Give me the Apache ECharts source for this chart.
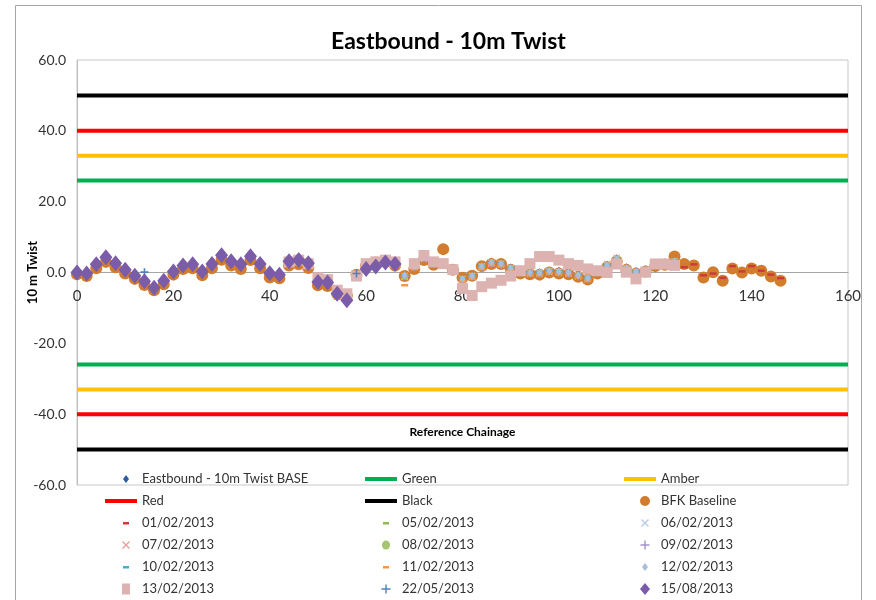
<!DOCTYPE html>
<html>
<head>
<meta charset="utf-8">
<script src="https://cdn.jsdelivr.net/npm/echarts@6/dist/echarts.min.js"></script>
<style>
  html, body { margin: 0; padding: 0; background: #fff; }
  #chart { width: 876px; height: 600px; }
</style>
</head>
<body>
<div id="chart"></div>
<script>
// ---- Data -------------------------------------------------------------
const chartTitle = 'Eastbound - 10m Twist';
const xAxisTitle = 'Reference Chainage';
const yAxisTitle = '10 m Twist';

// Reference chainage of each survey point (m)
const chainage = [0,2,4,6,8,10,12,14,16,18,20,22,24,26,28,30,32,34,36,38,40,42,44,46,48,50,
  52,54,56,58,60,62,64,66,68,70,72,74,76,78,80,82,84,86,88,90,92,94,96,98,100,102,104,106,
  108,110,112,114,116,118,120,122,124,126,128,130,132,134,136,138,140,142,144,146];

// Twist limits (drawn at + and - each value)
const limitNames  = ['Green', 'Amber', 'Red', 'Black'];
const limitValues = [26, 33, 40, 50];
const limitSpan   = [0, 160];

// Chainage 0 – 124
const base10mTwist = [0.4,0.2,2.8,4.8,3.0,1.2,-0.5,-2.0,-3.8,-1.9,
  0.7,2.4,2.7,0.8,2.9,5.3,3.6,2.8,5.0,2.9,
  0.3,-0.1,3.7,3.9,3.0,-2.2,-2.3,-6.5,-7.4,-0.1,
  1.5,2.2,3.3,2.9,-0.6,2.0,4.5,3.0,2.6,1.0,
  -1.5,-0.8,2.0,3.1,2.8,1.4,0.5,0.2,0.1,0.6,
  0.5,0.1,-0.6,-1.4,0.4,2.2,4.0,1.5,0.4,0.9,
  2.4,2.9,3.4];

// Chainage 0 – 146
const bfkBaseline = [-0.5,-1.0,1.2,3.0,1.5,-0.3,-1.8,-3.5,-5.0,-3.3,
  -0.6,1.0,1.2,-0.8,1.2,3.6,2.0,1.0,3.5,1.2,
  -1.4,-1.6,2.0,2.3,1.3,-3.6,-3.8,-6.0,-6.5,-0.6,
  2.0,2.8,3.0,2.0,-1.0,1.0,3.5,2.2,6.6,0.8,
  -1.5,-0.9,1.8,2.4,2.4,0.8,-0.3,-0.5,-0.6,0.0,
  -0.3,-0.5,-1.2,-2.0,-0.3,1.5,3.2,0.8,-0.3,0.3,
  1.8,2.2,4.5,2.4,2.0,-1.4,0.1,-2.3,1.1,0.0,
  1.1,0.5,-1.1,-2.3];

// Chainage 0 – 146
const run01Feb = [0.3,-0.1,2.1,4.0,2.4,0.6,-1.1,-2.7,-4.0,-2.0,
  0.1,1.8,2.0,0.1,2.2,4.6,3.0,2.0,4.3,2.2,
  -0.4,-0.8,3.0,3.3,2.3,-2.9,-3.0,-6.2,-7.5,-0.7,
  0.8,1.5,2.6,2.2,-1.2,1.2,3.7,2.3,1.8,0.3,
  -2.2,-1.4,1.3,2.4,2.1,0.8,-0.2,-0.5,-0.5,0.0,
  -0.2,-0.5,-1.2,-2.0,-0.2,1.6,3.4,0.8,-0.2,0.3,
  1.8,2.2,2.8,1.5,2.3,-0.8,-0.3,-1.5,1.8,0.3,
  1.8,0.5,-0.6,-1.6];

// Chainage 68 – 124
const run05Feb = [-0.8,1.2,4.6,2.2,1.6,0.2,-2.3,-1.5,1.1,2.3,2.0,0.7,-0.3,-0.5,-0.4,
  0.0,-0.2,-0.6,-1.3,-2.0,-0.2,1.5,3.3,0.8,-0.2,0.2,1.7,2.1,2.7];
const run06Feb = [-1.2,1.7,3.8,2.7,2.2,0.7,-1.8,-1.0,1.7,2.8,2.5,1.2,0.2,-0.1,-0.1,
  0.4,0.2,-0.1,-0.8,-1.6,0.2,2.0,3.8,1.2,0.2,0.7,2.2,2.6,3.2];
const run07Feb = [-0.9,1.4,4.2,2.4,1.9,0.4,-2.1,-1.3,1.4,2.5,2.2,0.9,-0.1,-0.4,-0.4,
  0.1,-0.1,-0.4,-1.1,-1.9,-0.1,2.4,4.2,1.0,-0.1,0.4,1.9,2.3,2.9];
const run08Feb = [-1.1,1.6,4.9,2.6,2.1,0.6,-1.9,-1.1,1.6,2.7,2.4,1.1,0.1,-0.2,-0.2,
  0.3,0.1,-0.2,-0.9,-1.7,0.1,1.9,3.7,1.1,0.1,0.6,2.1,2.5,3.1];
const run09Feb = [-1.1,1.4,4.1,2.4,2.1,0.6,-2.1,-1.1,1.4,2.7,2.2,1.1,0.1,-0.2,-0.4,
  0.3,0.1,-0.2,-1.1,-1.7,0.1,1.7,3.5,1.1,0.1,0.4,2.1,2.5,2.9];

// Chainage 44 – 124
const run10Feb = [3.5,3.8,2.9,-2.4,-2.5,-6.7,-7.5,-0.2,1.3,2.0,
  3.1,2.7,-0.7,1.8,4.3,2.8,2.3,0.8,-1.7,-0.9,
  1.8,2.9,2.6,1.3,0.3,0.0,0.0,0.5,0.3,0.0,
  -0.7,-1.5,0.3,2.1,3.9,1.3,0.3,0.8,2.3,2.7,3.3];
const run11Feb = [2.8,3.1,2.2,-3.1,-3.2,-7.4,-8.3,-0.9,0.6,1.3,
  2.4,2.0,-3.6,1.1,3.6,2.1,1.6,0.1,-2.4,-1.6,
  1.1,2.2,1.9,0.6,-0.4,-0.7,-0.7,-0.2,-0.4,-0.7,
  -1.4,-2.2,-0.4,1.4,3.2,0.6,-0.4,0.1,1.6,2.0,2.6];
const run12Feb = [3.4,3.6,2.8,-2.5,-2.6,-6.8,-7.6,-0.3,1.2,1.9,
  3.0,2.6,-0.8,1.7,4.2,2.7,2.2,0.7,-1.8,-1.0,
  1.7,2.8,2.5,1.2,0.2,-0.1,-0.1,0.4,0.2,-0.1,
  -0.8,-1.6,0.2,2.0,3.8,1.2,0.2,0.7,2.2,2.6,3.2];
const run13Feb = [3.0,3.5,2.5,-1.5,-2.0,-5.0,-6.0,-1.0,2.5,3.0,
  3.5,3.0,null,2.5,4.8,3.0,2.5,0.8,-4.5,-6.5,
  -4.0,-3.0,-2.2,-1.0,0.5,2.5,4.5,4.5,3.5,2.5,
  2.0,1.0,0.5,0.0,2.4,0.1,-1.8,0.1,2.4,2.4,2.0];

// Chainage 0 – 66
const run22May = [0.2,0.0,2.0,4.0,2.8,1.0,-0.5,0.1,-3.8,-2.0,
  0.5,2.2,2.0,0.5,2.6,5.2,3.0,2.5,4.8,2.6,
  0.0,-0.4,3.4,3.8,2.8,-2.4,-2.5,-6.8,-8.2,-0.3,
  1.2,2.0,3.0,2.6];
const run15Aug = [0.0,-0.3,2.3,4.3,2.6,0.8,-0.9,-2.5,-4.3,-2.3,
  0.3,2.0,2.3,0.3,2.4,4.9,3.2,2.3,4.6,2.4,
  -0.2,-0.6,3.2,3.5,2.6,-2.7,-2.8,-6.0,-7.8,null,
  1.0,1.7,2.8,2.4];

// ---- Helpers ----------------------------------------------------------
// Pair readings with their chainage, starting at a given chainage.
function points(values, fromChainage) {
  const start = chainage.indexOf(fromChainage);
  return values
    .map((v, i) => [chainage[start + i], v])
    .filter(p => p[1] !== null);
}

const FONT = "Lato, 'Liberation Sans', sans-serif";

// Marker shapes
const PLUS  = 'path://M4,0H6V4H10V6H6V10H4V6H0V4H4Z';
const CROSS = 'path://M0,1L1,0L5,4L9,0L10,1L6,5L10,9L9,10L5,6L1,10L0,9L4,5Z';

// Legend icons laid out in a 32x14 box (marker centred at x = 21)
const PAD = 'M0,0M32,14';
const ICON = {
  line:     'path://' + PAD + 'M0,5H32V9H0Z',
  diamondS: 'path://' + PAD + 'M21,3L24,7L21,11L18,7Z',
  diamondL: 'path://' + PAD + 'M21,1L26,7L21,13L16,7Z',
  circleL:  'path://' + PAD + 'M16,7A5,5 0 1 0 26,7A5,5 0 1 0 16,7Z',
  circleS:  'path://' + PAD + 'M17,7A4,4.5 0 1 0 25,7A4,4.5 0 1 0 17,7Z',
  dash:     'path://' + PAD + 'M18,6H24V8.5H18Z',
  cross:    'path://' + PAD + 'M17,4L18,3L21,6L24,3L25,4L22,7L25,10L24,11L21,8L18,11L17,10L20,7Z',
  plus:     'path://' + PAD + 'M20.3,2.5H21.7V6.3H25.5V7.7H21.7V11.5H20.3V7.7H16.5V6.3H20.3Z',
  square:   'path://' + PAD + 'M17,1.5H25V12.5H17Z'
};

// ---- Series -----------------------------------------------------------
const limitColors = { Green: '#00B050', Amber: '#FFC000', Red: '#FF0000', Black: '#000000' };

function scatter(name, data, color, symbol, size) {
  return {
    name, type: 'scatter', data, color,
    symbol, symbolSize: size,
    itemStyle: { color, opacity: 1 },
    silent: true, animation: false
  };
}

function limitLines(name, level) {
  return [level, -level].map(v => ({
    name, type: 'line', color: limitColors[name],
    data: [[limitSpan[0], v], [limitSpan[1], v]],
    symbol: 'none',
    lineStyle: { width: 4, color: limitColors[name] },
    silent: true, animation: false
  }));
}

const series = [];
series.push(scatter('Eastbound - 10m Twist BASE', points(base10mTwist, 0), '#2F5A9E', 'diamond', [6, 8]));
limitNames.forEach((n, i) => series.push(...limitLines(n, limitValues[i])));
series.push(scatter('BFK Baseline', points(bfkBaseline, 0), '#D27D2D', 'circle', 12));
series.push(scatter('01/02/2013', points(run01Feb, 0), '#CC3B3B', 'rect', [7, 2.5]));
series.push(scatter('05/02/2013', points(run05Feb, 68), '#92B84A', 'rect', [7, 2.5]));
series.push(scatter('06/02/2013', points(run06Feb, 68), '#B9CBE8', CROSS, 7));
series.push(scatter('07/02/2013', points(run07Feb, 68), '#E8A0A0', CROSS, 7));
series.push(scatter('08/02/2013', points(run08Feb, 68), '#A5C46F', 'circle', 7));
series.push(scatter('09/02/2013', points(run09Feb, 68), '#A593C8', PLUS, 8));
series.push(scatter('10/02/2013', points(run10Feb, 44), '#4BACC6', 'rect', [7, 2.5]));
series.push(scatter('11/02/2013', points(run11Feb, 44), '#F79646', 'rect', [7, 2.5]));
series.push(scatter('12/02/2013', points(run12Feb, 44), '#A9BEDD', 'diamond', [6, 8]));
series.push(scatter('13/02/2013', points(run13Feb, 44), '#DDB3B2', 'rect', 11));
series.push(scatter('22/05/2013', points(run22May, 0), '#4F81BD', PLUS, 8));
series.push(scatter('15/08/2013', points(run15Aug, 0), '#7A5CA8', 'diamond', [13, 16]));

// ---- Legend (three columns) --------------------------------------------
const legendIcons = {
  'Eastbound - 10m Twist BASE': ICON.diamondS,
  'Green': ICON.line, 'Amber': ICON.line, 'Red': ICON.line, 'Black': ICON.line,
  'BFK Baseline': ICON.circleL,
  '01/02/2013': ICON.dash, '05/02/2013': ICON.dash, '06/02/2013': ICON.cross,
  '07/02/2013': ICON.cross, '08/02/2013': ICON.circleS, '09/02/2013': ICON.plus,
  '10/02/2013': ICON.dash, '11/02/2013': ICON.dash, '12/02/2013': ICON.diamondS,
  '13/02/2013': ICON.square, '22/05/2013': ICON.plus, '15/08/2013': ICON.diamondL
};
const legendColumns = [
  ['Eastbound - 10m Twist BASE', 'Red', '01/02/2013', '07/02/2013', '10/02/2013', '13/02/2013'],
  ['Green', 'Black', '05/02/2013', '08/02/2013', '11/02/2013', '22/05/2013'],
  ['Amber', 'BFK Baseline', '06/02/2013', '09/02/2013', '12/02/2013', '15/08/2013']
];
const legendLeft = [105, 365, 624];

const legend = legendColumns.map((names, i) => ({
  orient: 'vertical',
  left: legendLeft[i],
  top: 472,
  padding: 0,
  itemWidth: 32,
  itemHeight: 14,
  itemGap: 8,
  selectedMode: false,
  itemStyle: { borderWidth: 0 },
  textStyle: { fontFamily: FONT, fontSize: 13, color: '#333' },
  data: names.map(n => ({ name: n, icon: legendIcons[n] }))
}));

// ---- Chart ------------------------------------------------------------
const chart = echarts.init(document.getElementById('chart'), null, { renderer: 'canvas' });
chart.setOption({
  animation: false,
  backgroundColor: '#ffffff',
  title: {
    text: chartTitle,
    left: 331,
    top: 30,
    padding: 0,
    textStyle: { fontFamily: FONT, fontWeight: 'bold', fontSize: 23, color: '#000' }
  },
  graphic: [{
    type: 'rect', silent: true, z: -10,
    shape: { x: 15.5, y: 5.5, width: 846, height: 640 },
    style: { fill: null, stroke: '#a6a6a6', lineWidth: 1 }
  }],
  grid: {
    left: 77, right: 28, top: 60, bottom: 115,
    outerBoundsMode: 'none',
    containLabel: false,
    show: true, borderColor: '#c8c8c8', borderWidth: 1, backgroundColor: 'transparent'
  },
  xAxis: {
    type: 'value', min: 0, max: 160, interval: 20,
    // chainage axis sits on the zero line of the twist scale
    offset: -212.5,
    axisLine: { onZero: false, lineStyle: { color: '#a6a6a6', width: 1 } },
    axisTick: { show: false },
    splitLine: { show: false },
    axisLabel: { margin: 16, fontFamily: FONT, fontSize: 15, color: '#333' },
    name: xAxisTitle,
    nameLocation: 'middle',
    nameGap: 154,
    nameMoveOverlap: false,
    nameTextStyle: { fontFamily: FONT, fontWeight: 'bold', fontSize: 12, color: '#000' }
  },
  yAxis: {
    type: 'value', min: -60, max: 60, interval: 20,
    axisLine: { show: true, onZero: false, lineStyle: { color: '#bfbfbf', width: 1 } },
    axisTick: { show: false },
    splitLine: { show: false },
    axisLabel: { margin: 11, fontFamily: FONT, fontSize: 14, color: '#333',
                 formatter: v => v.toFixed(1) },
    name: yAxisTitle,
    nameLocation: 'middle',
    nameRotate: 90,
    nameGap: 38,
    nameMoveOverlap: false,
    nameTextStyle: { fontFamily: FONT, fontWeight: 'bold', fontSize: 13, color: '#000' }
  },
  legend,
  series
});
</script>
</body>
</html>
